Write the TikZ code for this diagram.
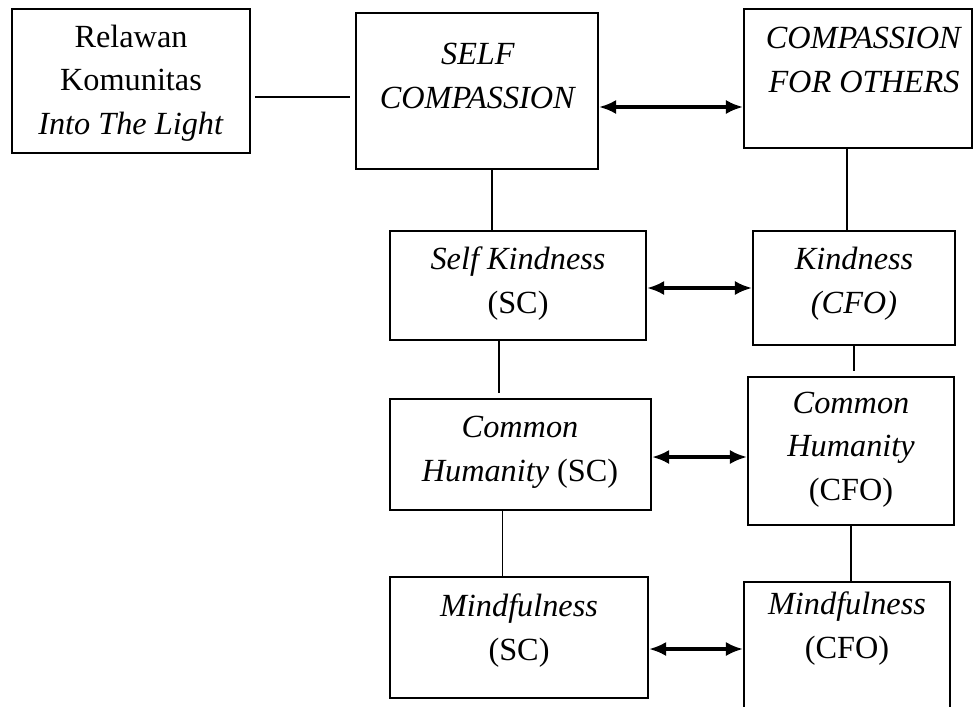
\documentclass[tikz,border=0pt]{standalone}
\usepackage{fontspec}
\setmainfont{Liberation Serif}
\usetikzlibrary{arrows.meta}
\tikzset{box/.style={draw, line width=0.8pt, inner sep=0pt}}
\tikzset{caption/.style={align=center, inner sep=0pt, anchor=base, font=\fontsize{12.3}{16.4}\selectfont}}
\tikzset{link/.style={line width=0.4pt}}
\tikzset{twoway/.style={line width=1.2pt, {Latex[length=6.5pt,width=5.4pt]}-{Latex[length=6.5pt,width=5.4pt]}}}

\begin{document}
\begin{tikzpicture}[x=0.381pt,y=-0.381pt]
    \useasboundingbox (0,0) rectangle (973,706);
    % boxes
    \foreach \x/\y/\w/\h/\lab in {
      131/81/238/144/rel,
      477/91/242/156/sc,
      858/78.5/228/139/cfo,
      518/285.5/256/109/sk,
      854/288/202/114/kd,
      520.5/454.5/261/111/chsc,
      851/451/206/148/chcfo,
      519/637.5/258/121/mfsc,
      847/656/206/148/mfcfo%
    } {
      \node[box, minimum width=\w*0.381pt, minimum height=\h*0.381pt] (\lab) at (\x, \y) {};
    }
    % texts (placed at the baseline of the last line)
    \foreach \x/\y/\lab/\tx in {
      131/134/rel-t/{Relawan\\Komunitas\\\textit{Into The Light}},
      478/108/sc-t/{\textit{SELF}\\\textit{COMPASSION}},
      864/92/cfo-t/{\textit{COMPASSION}\\\textit{FOR OTHERS}},
      518/313/sk-t/{\textit{Self Kindness}\\(SC)},
      854/313/kd-t/{\textit{Kindness}\\\textit{(CFO)}},
      520/481/chsc-t/{\textit{Common}\\\textit{Humanity} (SC)},
      851/500/chcfo-t/{\textit{Common}\\\textit{Humanity}\\(CFO)},
      519/660/mfsc-t/{\textit{Mindfulness}\\(SC)},
      847/658/mfcfo-t/{\textit{Mindfulness}\\(CFO)}%
    } {
      \node[caption] (\lab) at (\x, \y) {\tx};
    }
    % plain links
    \coordinate (ab) at ([shift={(0,16)}]rel.east);
    \draw[link, shorten <=1.5pt, shorten >=1.8pt] (ab) -- (ab -| sc.west);
    \coordinate (bd) at ([shift={(15,0)}]sc.south);
    \draw[link] (bd) -- (bd |- sk.north);
    \coordinate (ce) at ([shift={(-11,0)}]cfo.south);
    \draw[link] (ce) -- (ce |- kd.north);
    \coordinate (df) at ([shift={(-19,0)}]sk.south);
    \draw[link, shorten >=2pt] (df) -- (df |- chsc.north);
    \draw[link, shorten >=2pt] (kd.south) -- (kd.south |- chcfo.north);
    \coordinate (fh) at ([shift={(-18,0)}]chsc.south);
    \draw[link] (fh) -- (fh |- mfsc.north);
    \draw[link] (chcfo.south) -- (chcfo.south |- mfcfo.north);
    % two-way arrows
    \coordinate (bc) at ([shift={(0,16)}]sc.east);
    \draw[twoway] (bc) -- (bc -| cfo.west);
    \coordinate (de) at ([shift={(0,2.5)}]sk.east);
    \draw[twoway] (de) -- (de -| kd.west);
    \coordinate (fg) at ([shift={(0,2.5)}]chsc.east);
    \draw[twoway] (fg) -- (fg -| chcfo.west);
    \coordinate (hi) at ([shift={(0,11.5)}]mfsc.east);
    \draw[twoway] (hi) -- (hi -| mfcfo.west);
  \end{tikzpicture}
\end{document}
